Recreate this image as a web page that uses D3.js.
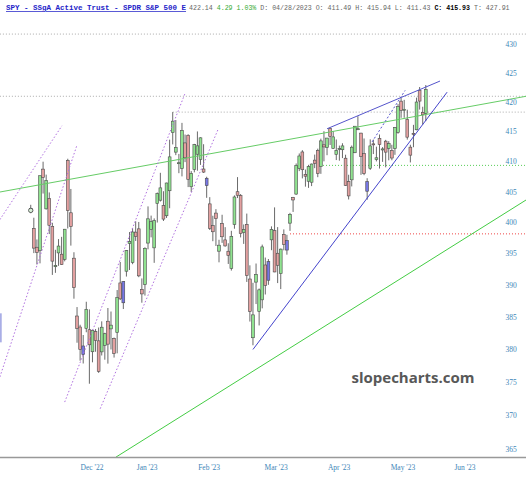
<!DOCTYPE html>
<html><head><meta charset="utf-8">
<script src="https://cdn.jsdelivr.net/npm/d3@7"></script>
<style>body{margin:0;background:#fff}svg{display:block}</style>
</head><body>
<svg id="c" width="526" height="480"></svg>
<script>
// ---- data (SPY daily) ----
const dates = ["11/25","11/28","11/29","11/30",
"12/01","12/02","12/05","12/06","12/07","12/08","12/09","12/12","12/13","12/14","12/15","12/16","12/19","12/20","12/21","12/22","12/23","12/27","12/28","12/29","12/30",
"01/03","01/04","01/05","01/06","01/09","01/10","01/11","01/12","01/13","01/17","01/18","01/19","01/20","01/23","01/24","01/25","01/26","01/27","01/30","01/31",
"02/01","02/02","02/03","02/06","02/07","02/08","02/09","02/10","02/13","02/14","02/15","02/16","02/17","02/21","02/22","02/23","02/24","02/27","02/28",
"03/01","03/02","03/03","03/06","03/07","03/08","03/09","03/10","03/13","03/14","03/15","03/16","03/17","03/20","03/21","03/22","03/23","03/24","03/27","03/28","03/29","03/30","03/31",
"04/03","04/04","04/05","04/06","04/10","04/11","04/12","04/13","04/14","04/17","04/18","04/19","04/20","04/21","04/24","04/25","04/26","04/27","04/28",
"05/01","05/02","05/03","05/04","05/05","05/08","05/09","05/10","05/11","05/12","05/15","05/16","05/17","05/18","05/19","05/22","05/23","05/24","05/25","05/26","05/30","05/31","06/01"];
const open = [401.83,399.09,396.05,395.49,
408.77,402.25,403.95,399.42,392.94,395.14,394.94,394.11,410.22,401.61,394.30,385.18,383.47,379.23,383.25,383.05,379.65,382.79,381.33,379.63,380.64,
384.37,383.18,381.72,382.61,390.37,387.25,392.23,396.67,393.62,398.48,399.01,389.36,390.10,396.72,398.88,395.95,403.13,403.66,402.80,401.13,
405.21,414.86,411.59,409.79,408.87,413.13,414.41,405.86,408.72,411.24,410.35,408.79,406.06,403.06,399.52,401.56,395.42,399.87,397.23,
395.41,392.68,399.71,405.05,404.42,398.39,399.74,390.99,381.81,390.50,385.89,387.71,393.22,390.80,397.24,398.73,395.09,391.84,398.12,397.11,399.93,404.10,404.66,
408.85,411.62,407.91,406.77,406.61,410.26,411.87,409.18,412.81,412.37,415.58,412.22,411.21,412.19,411.99,410.58,406.72,407.00,411.49,
415.47,414.77,411.36,406.71,408.91,412.97,410.36,413.88,411.95,413.42,412.22,411.86,412.17,414.90,420.17,418.64,417.08,412.42,414.74,415.33,422.03,418.28,418.09];
const high = [402.91,400.81,397.30,407.68,
410.00,407.86,404.93,399.99,395.64,397.36,397.72,398.99,410.49,405.50,395.25,386.58,383.82,382.23,387.41,386.21,383.06,383.15,383.39,384.35,382.58,
386.43,385.88,381.84,389.25,393.70,390.65,395.60,398.49,399.10,400.23,400.12,391.08,396.04,402.65,401.15,400.70,404.92,408.16,405.13,406.53,
413.67,418.31,416.97,411.29,416.49,414.53,414.57,408.44,412.97,415.05,414.06,412.91,407.51,404.16,401.13,402.20,397.25,401.29,399.28,
396.69,398.69,404.45,407.45,404.67,399.71,401.48,393.16,390.39,393.45,389.49,396.47,394.40,394.17,399.41,402.49,399.29,395.84,398.92,398.05,401.60,404.20,409.70,
411.37,411.92,408.70,409.48,409.69,411.18,412.17,413.84,415.09,413.96,415.72,415.08,413.70,412.68,413.07,411.16,407.84,412.69,415.94,
417.62,414.82,413.87,407.27,413.72,413.68,412.50,414.54,412.43,413.64,413.43,412.82,415.80,419.67,420.72,420.39,418.72,412.82,416.16,420.77,422.58,419.22,422.92];
const low = [401.54,395.11,393.30,393.48,
404.75,402.14,398.17,391.64,391.97,393.08,393.22,393.80,399.07,396.31,387.89,381.04,378.28,377.85,382.66,374.77,378.03,379.65,376.42,379.08,378.43,
377.83,380.00,378.76,379.41,387.67,386.27,391.38,392.42,393.34,397.06,391.28,387.26,388.38,395.72,397.64,393.56,400.03,403.44,400.28,400.77,
402.35,412.88,411.09,408.10,407.57,409.93,405.81,405.01,408.24,408.51,409.47,408.14,404.05,398.82,397.02,396.25,393.64,396.75,396.15,
393.38,392.33,399.03,404.01,397.63,396.59,390.53,384.32,380.65,387.05,383.71,386.38,388.55,390.07,395.58,392.07,390.35,389.40,395.56,394.86,398.68,401.75,404.55,
408.44,407.24,405.88,405.68,405.97,408.93,407.44,407.99,410.06,411.08,412.78,412.16,410.27,410.17,410.60,406.02,403.78,405.92,411.43,
415.27,407.82,407.77,403.74,408.64,411.27,410.05,408.87,409.97,409.07,410.23,410.24,411.14,414.67,417.35,417.35,413.68,409.88,412.41,415.25,418.74,416.22,416.79];
const close = [402.33,395.91,395.23,407.68,
407.38,406.91,399.59,393.83,393.16,396.24,393.28,398.95,401.97,399.40,389.63,383.27,380.02,380.54,386.23,380.72,382.91,381.40,376.66,383.44,382.43,
380.82,383.76,379.38,388.08,387.86,390.58,395.52,396.96,398.50,397.77,391.49,388.64,395.88,400.63,400.20,400.35,404.75,405.68,400.59,406.48,
410.80,416.78,412.35,409.83,415.19,410.65,407.09,408.04,412.83,412.64,413.98,408.28,407.26,399.09,398.54,400.66,396.38,397.73,396.26,
394.74,397.81,404.19,404.47,398.27,398.92,391.56,385.91,385.36,391.73,389.28,396.11,389.99,393.74,398.91,392.11,393.17,395.75,396.49,395.60,401.35,403.70,409.39,
410.95,408.67,407.60,409.19,409.61,409.72,408.05,413.47,412.46,413.94,414.21,414.14,411.88,412.20,412.63,406.08,404.36,412.41,415.93,
415.51,410.84,408.02,405.13,412.63,412.87,410.65,412.85,412.13,411.59,413.01,410.61,415.73,419.23,418.62,418.79,414.09,411.09,414.65,420.02,420.18,417.85,422.14];
// candles drawn in blue on the chart (index into dates)
const blueCandles = [0,17,30,57,77,83,109];
// circle marker [index, price]
const markers = [[0,402.0]];

// axis
const yTicks = [365,370,375,380,385,390,395,400,405,410,415,420,425,430];
const monthLabels = ["Dec '22","Jan '23","Feb '23","Mar '23","Apr '23","May '23","Jun '23"];
const monthPos = [19.85,37.7,57.8,79.5,99.9,120.6,140.7];

// horizontal levels [price, start index, colour]
const levels = [[431.73,-10,"#aaa"],[421.0,-10,"#aaa"],[418.31,46,"#aaa"],[409.39,94.7,"#5c5"],[398.2,84,"#e44"]];
// trendlines [[i1,p1],[i2,p2], colour, dashed]
const trendlines = [
  [[-10,405.0],[160.5,421.0],"#6c6",false],
  [[27.6,363.8],[160.5,403.7],"#4c4",false],
  [[72,380.0],[134.9,421.7],"#4444cc",false],
  [[96,415.5],[132.6,423.6],"#5555cc",false],
  [[110.6,413.3],[121.3,422.0],"#5555cc",true]
];
const channels = [
  [[-10,400.5],[10.1,416.0]],
  [[-10,375.8],[15.0,412.8]],
  [[11,372.0],[50,421.5]],
  [[22.5,371.0],[60.7,415.4]]
];
// shaded band at left edge [i1,i2,pLow,pHigh]
const bands = [[-10,-9.4,381.1,385.6]];

// ---- drawing ----
const svg = d3.select("#c");
const x = d3.scaleLinear().domain([3,128]).range([40,425.8]);
const y = d3.scaleLog().domain([365,430]).range([449,44]);

svg.append("defs").append("clipPath").attr("id","clip")
  .append("rect").attr("x",0).attr("y",20).attr("width",526).attr("height",437);
const plot = svg.append("g").attr("clip-path","url(#clip)");

plot.selectAll("rect.band").data(bands).join("rect").attr("class","band")
  .attr("x",d=>x(d[0])).attr("width",d=>x(d[1])-x(d[0]))
  .attr("y",d=>y(d[3])).attr("height",d=>y(d[2])-y(d[3])).attr("fill","#a9aee6");

// levels
plot.selectAll("line.lvl").data(levels).join("line").attr("class","lvl")
  .attr("x1",d=>x(d[1])).attr("x2",526).attr("y1",d=>y(d[0])).attr("y2",d=>y(d[0]))
  .attr("stroke",d=>d[2]).attr("stroke-width",1).attr("stroke-dasharray","1,2");

// candles
const idx = d3.range(dates.length);
const colorOf = i => blueCandles.includes(i) ? "#7777e6" : (close[i] >= open[i] ? "#90e390" : "#e3a0a0");
const cg = plot.append("g");
cg.selectAll("line.wick").data(idx).join("line").attr("class","wick")
  .attr("x1",i=>x(i)).attr("x2",i=>x(i)).attr("y1",i=>y(high[i])).attr("y2",i=>y(low[i]))
  .attr("stroke","#444").attr("stroke-width",0.8);
cg.selectAll("rect.body").data(idx).join("rect").attr("class","body")
  .attr("x",i=>x(i)-1.4).attr("width",2.8)
  .attr("y",i=>y(Math.max(open[i],close[i])))
  .attr("height",i=>Math.max(1,Math.abs(y(open[i])-y(close[i]))))
  .attr("fill",colorOf).attr("stroke","#4a4a4a").attr("stroke-width",0.6);
cg.selectAll("circle.mk").data(markers).join("circle").attr("class","mk")
  .attr("cx",d=>x(d[0])).attr("cy",d=>y(d[1])).attr("r",2.2)
  .attr("fill","#d8f0d8").attr("stroke","#444").attr("stroke-width",0.8);

// trendlines
plot.selectAll("line.tl").data(trendlines).join("line").attr("class","tl")
  .attr("x1",d=>x(d[0][0])).attr("y1",d=>y(d[0][1])).attr("x2",d=>x(d[1][0])).attr("y2",d=>y(d[1][1]))
  .attr("stroke",d=>d[2]).attr("stroke-width",1).attr("stroke-dasharray",d=>d[3]?"2,2":null);
plot.selectAll("line.ch").data(channels).join("line").attr("class","ch")
  .attr("x1",d=>x(d[0][0])).attr("y1",d=>y(d[0][1])).attr("x2",d=>x(d[1][0])).attr("y2",d=>y(d[1][1]))
  .attr("stroke","#b070e0").attr("stroke-width",1).attr("stroke-dasharray","1.5,2");

// bottom axis line
svg.append("line").attr("x1",0).attr("x2",526).attr("y1",457.5).attr("y2",457.5).attr("stroke","#999").attr("stroke-width",1.5);

// y labels
svg.selectAll("text.yl").data(yTicks).join("text").attr("class","yl")
  .attr("x",511).attr("y",d=>y(d)).attr("dy","0.35em").attr("text-anchor","middle")
  .attr("font-family","Liberation Serif, serif").attr("font-size",7.5).attr("fill","#3d86b8").text(d=>d);
// x labels
svg.selectAll("text.xl").data(monthLabels).join("text").attr("class","xl")
  .attr("x",(d,i)=>x(monthPos[i])).attr("y",470).attr("text-anchor","middle")
  .attr("font-family","Liberation Serif, serif").attr("font-size",7.5).attr("fill","#3d86b8").text(d=>d);

// watermark
svg.append("text").attr("x",413).attr("y",383).attr("text-anchor","middle")
  .attr("font-family","Open Sans, sans-serif").attr("font-weight","bold").attr("font-size",15)
  .attr("fill","#585858").text("slopecharts.com");

// title
const t = svg.append("text").attr("x",6).attr("y",10).attr("font-family","Liberation Mono, monospace").attr("font-size",6.6);
t.append("tspan").attr("font-weight","bold").attr("fill","#2323c8").attr("text-decoration","underline")
  .attr("font-size",7.5).text("SPY - SSgA Active Trust - SPDR S&P 500 E");
t.append("tspan").attr("fill","#666").attr("dx",3).text("422.14 ");
t.append("tspan").attr("fill","#3a3").text("4.29 1.03%");
t.append("tspan").attr("fill","#666").text(" D: 04/28/2023 O: 411.49 H: 415.94 L: 411.43 ");
t.append("tspan").attr("fill","#000").attr("font-weight","bold").text("C: 415.93");
t.append("tspan").attr("fill","#666").text(" T: 427.91");
</script>
</body></html>
